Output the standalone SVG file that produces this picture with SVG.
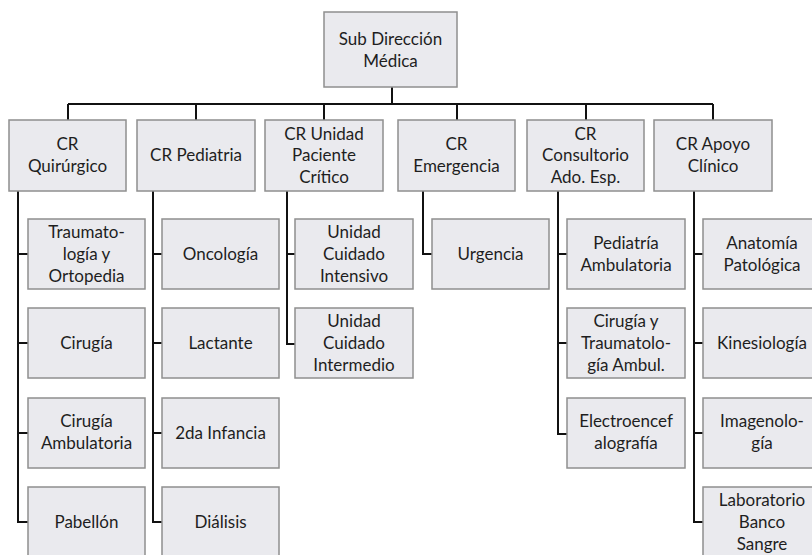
<svg xmlns="http://www.w3.org/2000/svg" width="812" height="555" viewBox="0 0 812 555">
  <style>
    .box { fill: #eaeaee; stroke: #8f8f8f; stroke-width: 1.5; }
    .lbl { font-family: Lato, "Liberation Sans", sans-serif; font-size: 17px; fill: #1e1e1e; text-anchor: middle; }
    .wire { fill: none; stroke: #111; stroke-width: 2; }
  </style>
  <rect width="812" height="555" fill="#ffffff"/>

  <!-- connectors -->
  <g id="connectors" class="wire">
    <path d="M392 87V104M68 104H713"/>
    <path d="M68 104V120M196 104V120M324 104V120M457 104V120M586 104V120M713 104V120"/>
    <!-- CR Quirúrgico -->
    <path d="M18 191V522H28M18 254H28M18 343H28M18 433H28"/>
    <!-- CR Pediatria -->
    <path d="M153 191V522H162M153 254H162M153 343H162M153 433H162"/>
    <!-- CR Unidad Paciente Crítico -->
    <path d="M287 191V344H295M287 254H295"/>
    <!-- CR Emergencia -->
    <path d="M423 191V254H432"/>
    <!-- CR Consultorio -->
    <path d="M558 191V434H567M558 254H567M558 343H567"/>
    <!-- CR Apoyo Clínico -->
    <path d="M694 191V522H703M694 254H703M694 343H703M694 433H703"/>
  </g>

  <!-- top -->
  <g id="sub-direccion">
    <rect class="box" x="324" y="12" width="133" height="75"/>
    <text class="lbl" x="390.5" y="45">Sub Dirección</text>
    <text class="lbl" x="390.5" y="67">Médica</text>
  </g>

  <!-- level 1 -->
  <g id="cr-quirurgico">
    <rect class="box" x="9" y="120" width="117" height="71"/>
    <text class="lbl" x="67.5" y="150">CR</text>
    <text class="lbl" x="67.5" y="172">Quirúrgico</text>
  </g>
  <g id="cr-pediatria">
    <rect class="box" x="137" y="120" width="118" height="71"/>
    <text class="lbl" x="196" y="161">CR Pediatria</text>
  </g>
  <g id="cr-unidad">
    <rect class="box" x="265" y="120" width="118" height="71"/>
    <text class="lbl" x="324" y="140">CR Unidad</text>
    <text class="lbl" x="324" y="161">Paciente</text>
    <text class="lbl" x="324" y="183">Crítico</text>
  </g>
  <g id="cr-emergencia">
    <rect class="box" x="398" y="120" width="117" height="71"/>
    <text class="lbl" x="456.5" y="150">CR</text>
    <text class="lbl" x="456.5" y="172">Emergencia</text>
  </g>
  <g id="cr-consultorio">
    <rect class="box" x="527" y="120" width="117" height="71"/>
    <text class="lbl" x="585.5" y="140">CR</text>
    <text class="lbl" x="585.5" y="161">Consultorio</text>
    <text class="lbl" x="585.5" y="183">Ado. Esp.</text>
  </g>
  <g id="cr-apoyo">
    <rect class="box" x="654" y="120" width="118" height="71"/>
    <text class="lbl" x="713" y="150">CR Apoyo</text>
    <text class="lbl" x="713" y="172">Clínico</text>
  </g>

  <!-- CR Quirúrgico children -->
  <g id="traumatologia">
    <rect class="box" x="28" y="219" width="117" height="70"/>
    <text class="lbl" x="86.5" y="238">Traumato-</text>
    <text class="lbl" x="86.5" y="260">logía y</text>
    <text class="lbl" x="86.5" y="282">Ortopedia</text>
  </g>
  <g id="cirugia">
    <rect class="box" x="28" y="308" width="117" height="70"/>
    <text class="lbl" x="86.5" y="349">Cirugía</text>
  </g>
  <g id="cirugia-ambulatoria">
    <rect class="box" x="28" y="398" width="117" height="70"/>
    <text class="lbl" x="86.5" y="427">Cirugía</text>
    <text class="lbl" x="86.5" y="449">Ambulatoria</text>
  </g>
  <g id="pabellon">
    <rect class="box" x="28" y="487" width="117" height="70"/>
    <text class="lbl" x="86.5" y="528">Pabellón</text>
  </g>

  <!-- CR Pediatria children -->
  <g id="oncologia">
    <rect class="box" x="162" y="219" width="117" height="70"/>
    <text class="lbl" x="220.5" y="260">Oncología</text>
  </g>
  <g id="lactante">
    <rect class="box" x="162" y="308" width="117" height="70"/>
    <text class="lbl" x="220.5" y="349">Lactante</text>
  </g>
  <g id="segunda-infancia">
    <rect class="box" x="162" y="398" width="117" height="70"/>
    <text class="lbl" x="220.5" y="439">2da Infancia</text>
  </g>
  <g id="dialisis">
    <rect class="box" x="162" y="487" width="117" height="70"/>
    <text class="lbl" x="220.5" y="528">Diálisis</text>
  </g>

  <!-- CR Unidad Paciente Crítico children -->
  <g id="cuidado-intensivo">
    <rect class="box" x="295" y="219" width="118" height="70"/>
    <text class="lbl" x="354" y="238">Unidad</text>
    <text class="lbl" x="354" y="260">Cuidado</text>
    <text class="lbl" x="354" y="282">Intensivo</text>
  </g>
  <g id="cuidado-intermedio">
    <rect class="box" x="295" y="308" width="118" height="70"/>
    <text class="lbl" x="354" y="327">Unidad</text>
    <text class="lbl" x="354" y="349">Cuidado</text>
    <text class="lbl" x="354" y="371">Intermedio</text>
  </g>

  <!-- CR Emergencia children -->
  <g id="urgencia">
    <rect class="box" x="432" y="219" width="117" height="70"/>
    <text class="lbl" x="490.5" y="260">Urgencia</text>
  </g>

  <!-- CR Consultorio children -->
  <g id="pediatria-ambulatoria">
    <rect class="box" x="567" y="219" width="118" height="70"/>
    <text class="lbl" x="626" y="249">Pediatría</text>
    <text class="lbl" x="626" y="271">Ambulatoria</text>
  </g>
  <g id="cirugia-trauma-ambul">
    <rect class="box" x="567" y="308" width="118" height="70"/>
    <text class="lbl" x="626" y="327">Cirugía y</text>
    <text class="lbl" x="626" y="349">Traumatolo-</text>
    <text class="lbl" x="626" y="371">gía Ambul.</text>
  </g>
  <g id="electroencefalografia">
    <rect class="box" x="567" y="398" width="118" height="70"/>
    <text class="lbl" x="626" y="427">Electroencef</text>
    <text class="lbl" x="626" y="449">alografía</text>
  </g>

  <!-- CR Apoyo Clínico children -->
  <g id="anatomia-patologica">
    <rect class="box" x="703" y="219" width="117" height="70"/>
    <text class="lbl" x="762" y="249">Anatomía</text>
    <text class="lbl" x="762" y="271">Patológica</text>
  </g>
  <g id="kinesiologia">
    <rect class="box" x="703" y="308" width="117" height="70"/>
    <text class="lbl" x="762" y="349">Kinesiología</text>
  </g>
  <g id="imagenologia">
    <rect class="box" x="703" y="398" width="117" height="70"/>
    <text class="lbl" x="762" y="427">Imagenolo-</text>
    <text class="lbl" x="762" y="449">gía</text>
  </g>
  <g id="laboratorio">
    <rect class="box" x="703" y="487" width="117" height="70"/>
    <text class="lbl" x="762" y="506">Laboratorio</text>
    <text class="lbl" x="762" y="528">Banco</text>
    <text class="lbl" x="762" y="550">Sangre</text>
  </g>
</svg>
